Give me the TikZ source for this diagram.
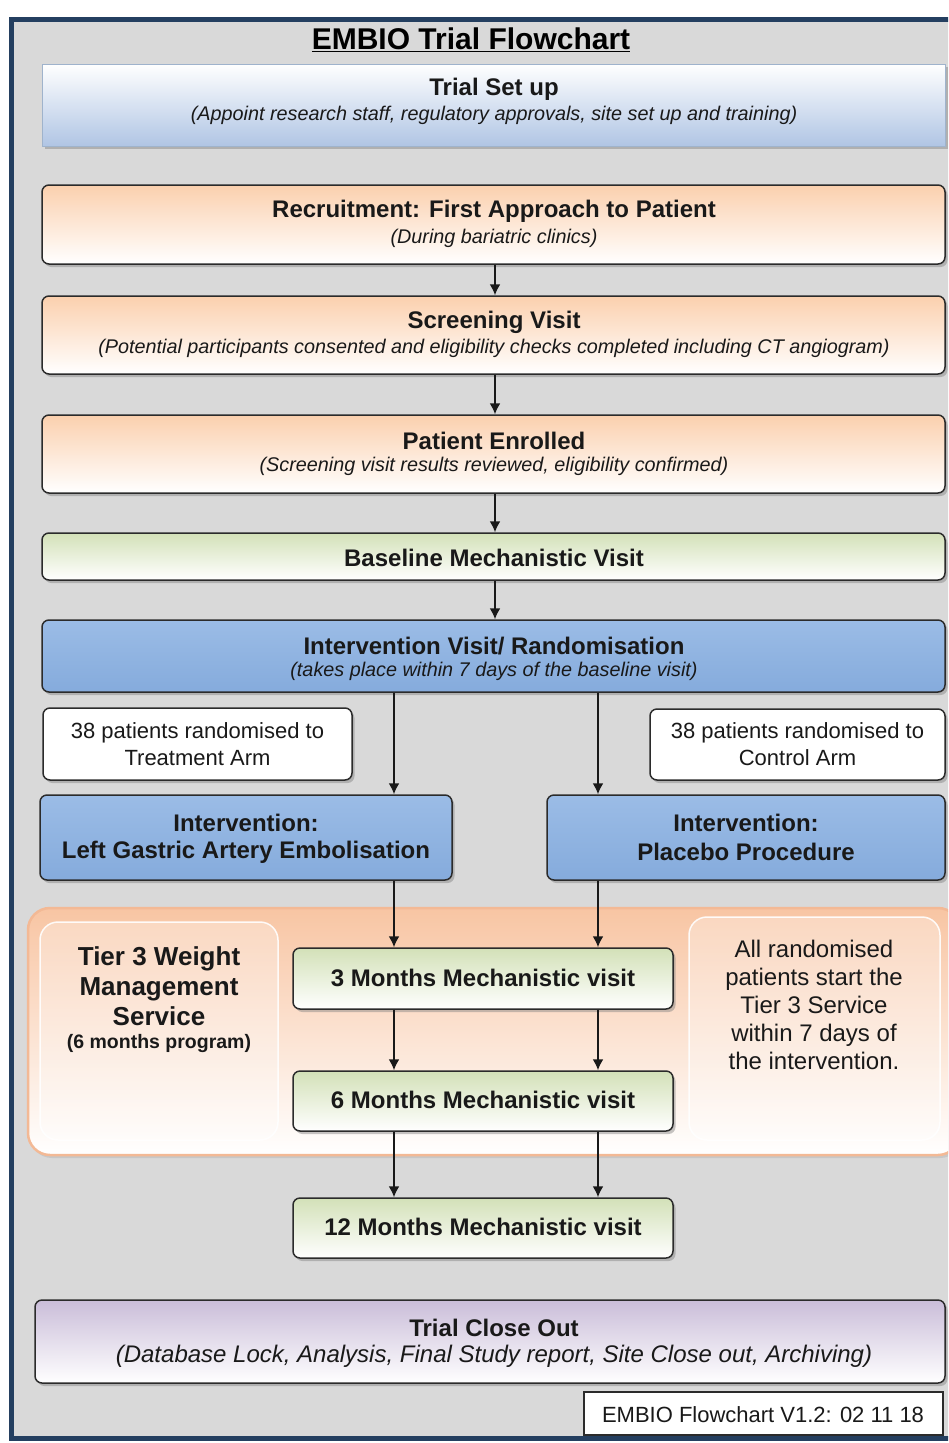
\documentclass[tikz,border=0pt]{standalone}
\usepackage{fontspec}
\setmainfont{Liberation Sans}
\usetikzlibrary{shadows,arrows.meta}
\definecolor{navy}{HTML}{243F60}
\definecolor{bggray}{HTML}{D9D9D9}
\definecolor{boxline}{HTML}{2B2B2B}
\definecolor{orangetop}{HTML}{FBD0AE}
\definecolor{greentop}{HTML}{D3E1B8}
\definecolor{bluetop}{HTML}{9BBCE6}
\definecolor{bluebot}{HTML}{85ABDC}
\definecolor{setupbot}{HTML}{B0C5E4}
\definecolor{setupline}{HTML}{9FB3CC}
\definecolor{purpletop}{HTML}{CABDD9}
\definecolor{tiertop}{HTML}{F8C5A3}
\definecolor{tierline}{HTML}{F3B995}
\newcommand{\myfs}[1]{\fontsize{#1}{#1}\selectfont}
\begin{document}
\begin{tikzpicture}[x=1pt,y=-1pt,
  shad/.style={drop shadow={shadow xshift=2.5pt,shadow yshift=-3pt,opacity=0.45}},
  box/.style={draw=boxline,line width=1.5pt,rounded corners=7pt,inner sep=0pt,shad},
  orangebox/.style={box,top color=orangetop,bottom color=white},
  greenbox/.style={box,top color=greentop,bottom color=white},
  bluebox/.style={box,top color=bluetop,bottom color=bluebot},
  whitebox/.style={box,fill=white},
  hd/.style={font=\bfseries\myfs{24},inner sep=0pt,text=black!90},
  sub/.style={font=\itshape\myfs{19.8},inner sep=0pt,text=black!90},
  reg/.style={font=\myfs{22},inner sep=0pt,text=black!90},
  arr/.style={-{Latex[length=11pt,width=11pt]},line width=1.8pt,draw=black!90}]
\useasboundingbox (0,0) rectangle (948,1443);
\clip (0,0) rectangle (948,1443);
\fill[white] (0,0) rectangle (948,1443);
\draw[line width=5pt,draw=navy,fill=bggray] (11.5,19) rectangle (1000,1438);

% title
\node[font=\bfseries\myfs{30},inner sep=0pt] (title) at (471,40) {\underline{EMBIO Trial Flowchart}};

% trial set up
\node[draw=setupline,line width=1pt,top color=white,bottom color=setupbot,inner sep=0pt,shad,
  minimum width=903pt,minimum height=82pt] (setup) at (493.5,105) {};
\node[hd] (setupT) at (494,89) {Trial Set up};
\node[sub] (setupS) at (494,115) {(Appoint research staff, regulatory approvals, site set up and training)};

% recruitment
\node[orangebox,minimum width=903pt,minimum height=79pt] (rec) at (493.5,224.5) {};
\node[hd] (recT) at (494,211) {Recruitment: First Approach to Patient};
\node[sub] (recS) at (494,238) {(During bariatric clinics)};

% screening
\node[orangebox,minimum width=903pt,minimum height=78pt] (scr) at (493.5,335) {};
\node[hd] (scrT) at (494,322) {Screening Visit};
\node[sub] (scrS) at (494,348) {(Potential participants consented and eligibility checks completed including CT angiogram)};

% enrolled
\node[orangebox,minimum width=903pt,minimum height=78pt] (enr) at (493.5,454) {};
\node[hd] (enrT) at (494,441) {Patient Enrolled};
\node[sub] (enrS) at (494,466) {(Screening visit results reviewed, eligibility confirmed)};

% baseline
\node[greenbox,minimum width=903pt,minimum height=47pt] (base) at (493.5,556.5) {};
\node[hd] (baseT) at (494,558) {Baseline Mechanistic Visit};

% intervention visit
\node[bluebox,minimum width=903pt,minimum height=72pt] (ivr) at (493.5,656) {};
\node[hd] (ivrT) at (494,646) {Intervention Visit/ Randomisation};
\node[sub] (ivrS) at (494,671) {(takes place within 7 days of the baseline visit)};

% arms
\node[whitebox,minimum width=309pt,minimum height=72pt] (tarm) at (197.5,744) {};
\node[reg] (tarmT1) at (197.5,733) {38 patients randomised to};
\node[reg] (tarmT2) at (197.5,758) {Treatment Arm};
\node[whitebox,minimum width=295pt,minimum height=71pt] (carm) at (797.5,744.5) {};
\node[reg] (carmT1) at (797.5,733) {38 patients randomised to};
\node[reg] (carmT2) at (797.5,758) {Control Arm};

% interventions
\node[bluebox,minimum width=412pt,minimum height=85pt] (lgae) at (246,837.5) {};
\node[hd] (lgaeT1) at (246,823) {Intervention:};
\node[hd] (lgaeT2) at (246,852) {Left Gastric Artery Embolisation};
\node[bluebox,minimum width=398pt,minimum height=85pt] (plac) at (746,837.5) {};
\node[hd] (placT1) at (746,823) {Intervention:};
\node[hd] (placT2) at (746,852) {Placebo Procedure};

% tier 3 region
\node[draw=tierline,line width=2.5pt,rounded corners=22pt,top color=tiertop,bottom color=white,
  inner sep=0pt,drop shadow={shadow xshift=2pt,shadow yshift=-3pt,opacity=0.2},
  minimum width=932pt,minimum height=247pt] (tier) at (494,1031.5) {};
\node[draw=white,line width=1.5pt,rounded corners=18pt,fill=white,fill opacity=0.3,draw opacity=0.9,
  inner sep=0pt,minimum width=238pt,minimum height=218pt] (tierL) at (159,1031) {};
\node[draw=white,line width=1.5pt,rounded corners=18pt,fill=white,fill opacity=0.3,draw opacity=0.9,
  inner sep=0pt,minimum width=251pt,minimum height=223pt] (tierR) at (814.5,1028.5) {};
\node[inner sep=0pt,align=center,text=black!90,font=\bfseries\myfs{26}\setlength{\baselineskip}{30pt}] (tierLT) at (159,986) {Tier 3 Weight\\Management\\Service};
\node[inner sep=0pt,text=black!90,font=\bfseries\myfs{19.5}] (tierLS) at (159,1043) {(6 months program)};
\node[inner sep=0pt,align=center,text=black!90,font=\myfs{24}\setlength{\baselineskip}{28pt}] (tierRT) at (814,1005) {All randomised\\patients start the\\Tier 3 Service\\within 7 days of\\the intervention.};

% visits
\node[greenbox,minimum width=380pt,minimum height=61pt] (m3) at (483,978.5) {};
\node[hd] (m3T) at (483,978) {3 Months Mechanistic visit};
\node[greenbox,minimum width=380pt,minimum height=60pt] (m6) at (483,1101) {};
\node[hd] (m6T) at (483,1100) {6 Months Mechanistic visit};
\node[greenbox,minimum width=380pt,minimum height=60pt] (m12) at (483,1228) {};
\node[hd] (m12T) at (483,1227) {12 Months Mechanistic visit};

% close out
\node[box,top color=purpletop,bottom color=white,minimum width=910pt,minimum height=83pt] (close) at (490,1341.5) {};
\node[hd] (closeT) at (494,1328) {Trial Close Out};
\node[font=\itshape\myfs{24},inner sep=0pt,text=black!90] (closeS) at (494,1356) {(Database Lock, Analysis, Final Study report, Site Close out, Archiving)};

% version
\node[draw=boxline,line width=1.2pt,fill=white,inner sep=0pt,minimum width=359pt,minimum height=43pt] (ver) at (763.5,1413.5) {};
\node[reg] (verT) at (763,1415) {EMBIO Flowchart V1.2: 02 11 18};

% connectors
\coordinate (cx) at (495,0);
\coordinate (lx) at (394,0);
\coordinate (rx) at (598,0);
\draw[arr] (rec.south -| cx) -- (scr.north -| cx);
\draw[arr] (scr.south -| cx) -- (enr.north -| cx);
\draw[arr] (enr.south -| cx) -- (base.north -| cx);
\draw[arr] (base.south -| cx) -- (ivr.north -| cx);
\draw[arr] (ivr.south -| lx) -- (lgae.north -| lx);
\draw[arr] (ivr.south -| rx) -- (plac.north -| rx);
\draw[arr] (lgae.south -| lx) -- (m3.north -| lx);
\draw[arr] (plac.south -| rx) -- (m3.north -| rx);
\draw[arr] (m3.south -| lx) -- (m6.north -| lx);
\draw[arr] (m3.south -| rx) -- (m6.north -| rx);
\draw[arr] (m6.south -| lx) -- (m12.north -| lx);
\draw[arr] (m6.south -| rx) -- (m12.north -| rx);
\end{tikzpicture}
\end{document}
